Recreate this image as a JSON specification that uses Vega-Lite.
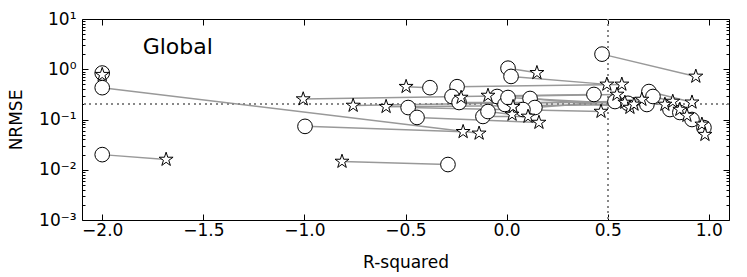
{
  "$schema": "https://vega.github.io/schema/vega-lite/v6.json",
  "autosize": {"type": "none"},
  "padding": {"left": 82, "top": 19, "right": 18, "bottom": 57},
  "width": 647,
  "height": 201,
  "background": "white",
  "config": {
    "view": {"stroke": "black", "strokeWidth": 1},
    "font": "DejaVu Sans",
    "axis": {"domainColor": "black", "tickColor": "black", "labelColor": "black", "titleColor": "black", "labelFont": "DejaVu Sans", "titleFont": "DejaVu Sans", "titleFontWeight": "normal", "grid": false}
  },
  "data": {"values": [
    {"pair": 1, "marker": "circle", "r2": -2.0, "nrmse": 0.84},
    {"pair": 1, "marker": "star", "r2": -2.0, "nrmse": 0.78},
    {"pair": 2, "marker": "circle", "r2": -2.0, "nrmse": 0.43},
    {"pair": 2, "marker": "star", "r2": -0.136, "nrmse": 0.053},
    {"pair": 3, "marker": "circle", "r2": -2.0, "nrmse": 0.020},
    {"pair": 3, "marker": "star", "r2": -1.684, "nrmse": 0.016},
    {"pair": 4, "marker": "circle", "r2": -0.997, "nrmse": 0.073},
    {"pair": 4, "marker": "star", "r2": -0.215, "nrmse": 0.057},
    {"pair": 5, "marker": "circle", "r2": -0.29, "nrmse": 0.0127},
    {"pair": 5, "marker": "star", "r2": -0.814, "nrmse": 0.0146},
    {"pair": 6, "marker": "circle", "r2": -0.379, "nrmse": 0.43},
    {"pair": 6, "marker": "star", "r2": -0.497, "nrmse": 0.45},
    {"pair": 7, "marker": "circle", "r2": -0.245, "nrmse": 0.45},
    {"pair": 7, "marker": "star", "r2": 0.57, "nrmse": 0.50},
    {"pair": 8, "marker": "circle", "r2": 0.007, "nrmse": 1.05},
    {"pair": 8, "marker": "star", "r2": 0.15, "nrmse": 0.85},
    {"pair": 9, "marker": "circle", "r2": 0.022, "nrmse": 0.72},
    {"pair": 9, "marker": "star", "r2": 0.496, "nrmse": 0.50},
    {"pair": 10, "marker": "circle", "r2": 0.432, "nrmse": 0.315},
    {"pair": 10, "marker": "star", "r2": -1.006, "nrmse": 0.255},
    {"pair": 11, "marker": "circle", "r2": 0.536, "nrmse": 0.228},
    {"pair": 11, "marker": "star", "r2": -0.759, "nrmse": 0.19},
    {"pair": 12, "marker": "circle", "r2": 0.694, "nrmse": 0.199},
    {"pair": 12, "marker": "star", "r2": -0.596, "nrmse": 0.18},
    {"pair": 13, "marker": "circle", "r2": -0.487, "nrmse": 0.173},
    {"pair": 13, "marker": "star", "r2": 0.467, "nrmse": 0.144},
    {"pair": 14, "marker": "circle", "r2": -0.443, "nrmse": 0.11},
    {"pair": 14, "marker": "star", "r2": 0.16, "nrmse": 0.087},
    {"pair": 15, "marker": "circle", "r2": -0.27, "nrmse": 0.287},
    {"pair": 15, "marker": "star", "r2": -0.225, "nrmse": 0.274},
    {"pair": 16, "marker": "circle", "r2": -0.235, "nrmse": 0.218},
    {"pair": 16, "marker": "star", "r2": 0.585, "nrmse": 0.218},
    {"pair": 17, "marker": "circle", "r2": -0.117, "nrmse": 0.115},
    {"pair": 17, "marker": "star", "r2": 0.106, "nrmse": 0.115},
    {"pair": 18, "marker": "circle", "r2": -0.092, "nrmse": 0.144},
    {"pair": 18, "marker": "star", "r2": 0.027, "nrmse": 0.126},
    {"pair": 19, "marker": "circle", "r2": -0.047, "nrmse": 0.287},
    {"pair": 19, "marker": "star", "r2": 0.546, "nrmse": 0.315},
    {"pair": 20, "marker": "circle", "r2": -0.008, "nrmse": 0.199},
    {"pair": 20, "marker": "star", "r2": 0.032, "nrmse": 0.18},
    {"pair": 21, "marker": "circle", "r2": 0.116, "nrmse": 0.262},
    {"pair": 21, "marker": "star", "r2": 0.61, "nrmse": 0.173},
    {"pair": 22, "marker": "circle", "r2": 0.14, "nrmse": 0.173},
    {"pair": 22, "marker": "star", "r2": 0.669, "nrmse": 0.25},
    {"pair": 23, "marker": "circle", "r2": 0.081, "nrmse": 0.158},
    {"pair": 23, "marker": "star", "r2": -0.092, "nrmse": 0.30},
    {"pair": 24, "marker": "circle", "r2": 0.007, "nrmse": 0.274},
    {"pair": 24, "marker": "star", "r2": 0.63, "nrmse": 0.20},
    {"pair": 25, "marker": "circle", "r2": 0.472, "nrmse": 2.0},
    {"pair": 25, "marker": "star", "r2": 0.936, "nrmse": 0.72},
    {"pair": 26, "marker": "circle", "r2": 0.704, "nrmse": 0.36},
    {"pair": 26, "marker": "star", "r2": 0.917, "nrmse": 0.22},
    {"pair": 27, "marker": "circle", "r2": 0.724, "nrmse": 0.287},
    {"pair": 27, "marker": "star", "r2": 0.822, "nrmse": 0.228},
    {"pair": 28, "marker": "circle", "r2": 0.808, "nrmse": 0.158},
    {"pair": 28, "marker": "star", "r2": 0.857, "nrmse": 0.158},
    {"pair": 29, "marker": "circle", "r2": 0.917, "nrmse": 0.10},
    {"pair": 29, "marker": "star", "r2": 0.966, "nrmse": 0.08},
    {"pair": 30, "marker": "circle", "r2": 0.976, "nrmse": 0.069},
    {"pair": 30, "marker": "star", "r2": 0.981, "nrmse": 0.05},
    {"pair": 31, "marker": "circle", "r2": 0.857, "nrmse": 0.138},
    {"pair": 31, "marker": "star", "r2": 0.892, "nrmse": 0.12},
    {"pair": 32, "marker": "circle", "r2": 0.6, "nrmse": 0.21},
    {"pair": 32, "marker": "star", "r2": 0.783, "nrmse": 0.199}
  ]},
  "layer": [
    {
      "mark": {"type": "line", "color": "#999999", "strokeWidth": 1.5},
      "encoding": {
        "x": {"field": "r2", "type": "quantitative", "scale": {"domain": [-2.1, 1.1], "nice": false, "zero": false},
          "axis": {"orient": "bottom", "values": [-2, -1.5, -1, -0.5, 0, 0.5, 1], "format": ".1f", "tickSize": -6, "labelPadding": 8, "labelFontSize": 17, "title": "R-squared", "titleFontSize": 17, "titleX": 323.5, "titleY": 42, "titleAlign": "center", "titleBaseline": "middle", "domain": false}},
        "y": {"field": "nrmse", "type": "quantitative", "scale": {"type": "log", "domain": [0.001, 10], "nice": false},
          "axis": {"orient": "left", "values": [0.001,0.002,0.003,0.004,0.005,0.006,0.007,0.008,0.009,0.01,0.02,0.03,0.04,0.05,0.06,0.07,0.08,0.09,0.1,0.2,0.3,0.4,0.5,0.6,0.7,0.8,0.9,1,2,3,4,5,6,7,8,9,10],
            "labelExpr": "datum.value == 10 ? '10¹' : datum.value == 1 ? '10⁰' : datum.value == 0.1 ? '10⁻¹' : datum.value == 0.01 ? '10⁻²' : datum.value == 0.001 ? '10⁻³' : ''",
            "tickSize": {"condition": {"test": "indexof([0.001,0.01,0.1,1,10], datum.value) >= 0", "value": -6}, "value": -3},
            "labelPadding": 12, "labelFontSize": 17, "labelOverlap": false, "labelBound": false, "labelFlush": false,
            "title": "NRMSE", "titleFontSize": 17, "titleX": -66, "titleY": 100.5, "titleAlign": "center", "titleBaseline": "middle", "titleAngle": -90, "domain": false}},
        "detail": {"field": "pair", "type": "nominal"}
      }
    },
    {
      "mark": {"type": "rule", "color": "#888888", "strokeDash": [1.5, 4], "strokeWidth": 1.3},
      "encoding": {
        "x": {"datum": 0.5, "type": "quantitative",
          "axis": {"orient": "top", "values": [-2, -1.5, -1, -0.5, 0, 0.5, 1], "tickSize": -6, "labels": false, "title": null, "domain": false}}
      }
    },
    {
      "mark": {"type": "rule", "color": "#888888", "strokeDash": [1.5, 4], "strokeWidth": 1.3},
      "encoding": {
        "y": {"datum": 0.2, "type": "quantitative",
          "axis": {"orient": "right", "values": [0.001,0.002,0.003,0.004,0.005,0.006,0.007,0.008,0.009,0.01,0.02,0.03,0.04,0.05,0.06,0.07,0.08,0.09,0.1,0.2,0.3,0.4,0.5,0.6,0.7,0.8,0.9,1,2,3,4,5,6,7,8,9,10],
            "tickSize": {"condition": {"test": "indexof([0.001,0.01,0.1,1,10], datum.value) >= 0", "value": -6}, "value": -3},
            "labels": false, "title": null, "domain": false}}
      }
    },
    {
      "transform": [{"filter": "datum.marker == 'circle'"}],
      "mark": {"type": "point", "shape": "circle", "filled": true, "fill": "white", "stroke": "black", "strokeWidth": 1, "size": 215, "opacity": 1},
      "encoding": {
        "x": {"field": "r2", "type": "quantitative", "axis": null},
        "y": {"field": "nrmse", "type": "quantitative", "axis": null}
      }
    },
    {
      "transform": [{"filter": "datum.marker == 'star'"}],
      "mark": {"type": "point", "shape": "M0,-1L0.2245,-0.309L0.951,-0.309L0.363,0.118L0.588,0.809L0,0.382L-0.588,0.809L-0.363,0.118L-0.951,-0.309L-0.2245,-0.309Z", "filled": true, "fill": "white", "stroke": "black", "strokeWidth": 1, "size": 215, "opacity": 1},
      "encoding": {
        "x": {"field": "r2", "type": "quantitative", "axis": null},
        "y": {"field": "nrmse", "type": "quantitative", "axis": null}
      }
    },
    {
      "data": {"values": [{"label": "Global"}]},
      "mark": {"type": "text", "fontSize": 22, "align": "left", "baseline": "alphabetic", "font": "DejaVu Sans", "color": "black"},
      "encoding": {
        "text": {"field": "label"},
        "x": {"datum": -1.8, "type": "quantitative", "axis": null},
        "y": {"datum": 2.05, "type": "quantitative", "axis": null}
      }
    }
  ],
  "resolve": {"axis": {"x": "independent", "y": "independent"}}
}
